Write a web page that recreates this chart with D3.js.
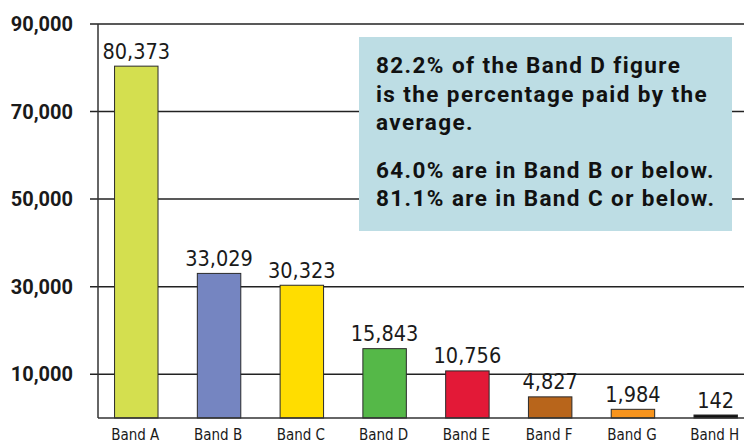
<!DOCTYPE html>
<html>
<head>
<meta charset="utf-8">
<script src="https://cdn.jsdelivr.net/npm/d3@7"></script>
<style>
  html, body { margin: 0; padding: 0; background: #fff; }
  svg { display: block; }
</style>
</head>
<body>
<svg id="chart" width="744" height="443"></svg>
<script>
const categories = ["Band A", "Band B", "Band C", "Band D", "Band E", "Band F", "Band G", "Band H"];
const values = [80373, 33029, 30323, 15843, 10756, 4827, 1984, 142];
const colors = ["#d4df4f", "#7585c1", "#ffdd00", "#55b848", "#e31937", "#b8651b", "#f7941d", "#111111"];
const yTicks = [10000, 30000, 50000, 70000, 90000];
const noteLines = [
  "82.2% of the Band D figure",
  "is the percentage paid by the",
  "average.",
  "64.0% are in Band B or below.",
  "81.1% are in Band C or below."
];

const narrow = "'Liberation Sans Narrow', 'DejaVu Sans Condensed', 'Roboto', sans-serif";
const svg = d3.select("#chart");

const x = d3.scaleBand()
  .domain(categories)
  .range([98, 98 + 8 * 82])
  .paddingInner(0.475)
  .paddingOuter(0.2);

const y = d3.scaleLinear().domain([0, 90000]).range([418, 24]);
const barTop = d => Math.min(y(d), y(0) - 3);

// gridlines
svg.append("g").selectAll("line").data(yTicks).join("line")
  .attr("x1", 90).attr("x2", 744)
  .attr("y1", d => y(d)).attr("y2", d => y(d))
  .attr("stroke", "#222").attr("stroke-width", 1.5);

// y labels
svg.append("g").selectAll("text").data(yTicks).join("text")
  .attr("x", 73).attr("y", d => y(d)).attr("dy", "0.36em")
  .attr("text-anchor", "end")
  .attr("font-family", "Roboto, sans-serif")
  .attr("font-weight", "bold").attr("font-size", 20)
  .attr("fill", "#1a1a1a")
  .text(d => d3.format(",")(d));

// bars
svg.append("g").selectAll("rect").data(values).join("rect")
  .attr("x", (d, i) => x(categories[i]))
  .attr("width", x.bandwidth())
  .attr("y", d => barTop(d))
  .attr("height", d => y(0) - barTop(d))
  .attr("fill", (d, i) => colors[i])
  .attr("stroke", "#2a2a2a").attr("stroke-width", 1);

// axes lines
svg.append("line").attr("x1", 98).attr("x2", 98).attr("y1", y(90000)).attr("y2", y(0))
  .attr("stroke", "#333").attr("stroke-width", 1.5);
svg.append("line").attr("x1", 98).attr("x2", 744).attr("y1", y(0)).attr("y2", y(0))
  .attr("stroke", "#333").attr("stroke-width", 1.5);

// value labels
svg.append("g").selectAll("text").data(values).join("text")
  .attr("x", (d, i) => x(categories[i]) + x.bandwidth() / 2)
  .attr("y", d => barTop(d) - 7.5)
  .attr("text-anchor", "middle")
  .attr("font-family", narrow).attr("font-size", 21.5)
  .attr("fill", "#1a1a1a")
  .text(d => d3.format(",")(d));

// category labels
svg.append("g").selectAll("text").data(categories).join("text")
  .attr("x", d => x(d) + x.bandwidth() / 2 - 1)
  .attr("y", 439.5)
  .attr("text-anchor", "middle")
  .attr("font-family", narrow).attr("font-size", 15)
  .attr("fill", "#1a1a1a")
  .text(d => d);

// note box
const note = svg.append("g");
note.append("rect").attr("x", 359).attr("y", 37).attr("width", 373).attr("height", 194)
  .attr("fill", "#bddde4");
const lineY = [73, 101.5, 130, 178, 205.5];
note.selectAll("text").data(noteLines).join("text")
  .attr("x", 376).attr("y", (d, i) => lineY[i])
  .attr("font-family", "Roboto, sans-serif").attr("font-weight", "bold")
  .attr("font-size", 22.5).attr("letter-spacing", 1.4).attr("fill", "#111")
  .text(d => d);
</script>
</body>
</html>
